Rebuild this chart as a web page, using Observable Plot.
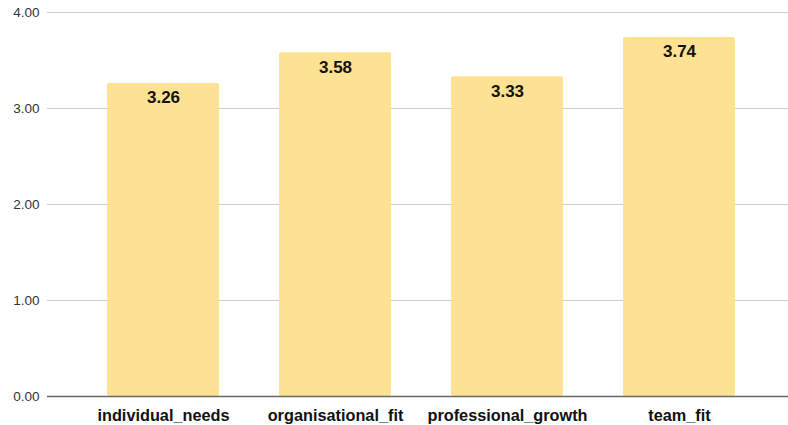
<!DOCTYPE html>
<html>
<head>
<meta charset="utf-8">
<script src="https://cdn.jsdelivr.net/npm/d3@7"></script>
<script src="https://cdn.jsdelivr.net/npm/@observablehq/plot@0.6"></script>
<style>
  html, body { margin: 0; padding: 0; background: #fff; }
  svg { display: block; }
</style>
</head>
<body>
<div id="chart"></div>
<script>
const categories = ["individual_needs", "organisational_fit", "professional_growth", "team_fit"];
const values = [3.26, 3.58, 3.33, 3.74];
const yTicks = [0, 1, 2, 3, 4];

const data = categories.map((c, i) => ({category: c, value: values[i]}));

const chart = Plot.plot({
  width: 788,
  height: 425,
  marginLeft: 47,
  marginRight: 0,
  marginTop: 12,
  marginBottom: 29,
  style: {fontFamily: "Arial, 'Liberation Sans', sans-serif", background: "#fff"},
  x: {domain: categories, range: [77, 765], paddingInner: 0.35, paddingOuter: 0.175, label: null},
  y: {domain: [0, 4], label: null},
  marks: [
    Plot.gridY(yTicks, {stroke: "#cccccc", strokeOpacity: 1}),
    Plot.axisY(yTicks, {tickSize: 0, tickPadding: 8, tickFormat: d3.format(".2f"), fontSize: 13.5, fill: "#333", label: null}),
    Plot.barY(data, {x: "category", y: "value", fill: "#fde293", rx: 2}),
    Plot.ruleY([0], {stroke: "#666", strokeWidth: 1.5}),
    Plot.text(data, {x: "category", y: "value", text: d => d3.format(".2f")(d.value), dy: 14.5, fontSize: 17, fontWeight: "bold", fill: "#111"}),
    Plot.axisX({tickSize: 0, tickPadding: 12.5, fontSize: 16.3, fontWeight: "bold", fill: "#111", label: null})
  ]
});
document.getElementById("chart").appendChild(chart);
</script>
</body>
</html>
